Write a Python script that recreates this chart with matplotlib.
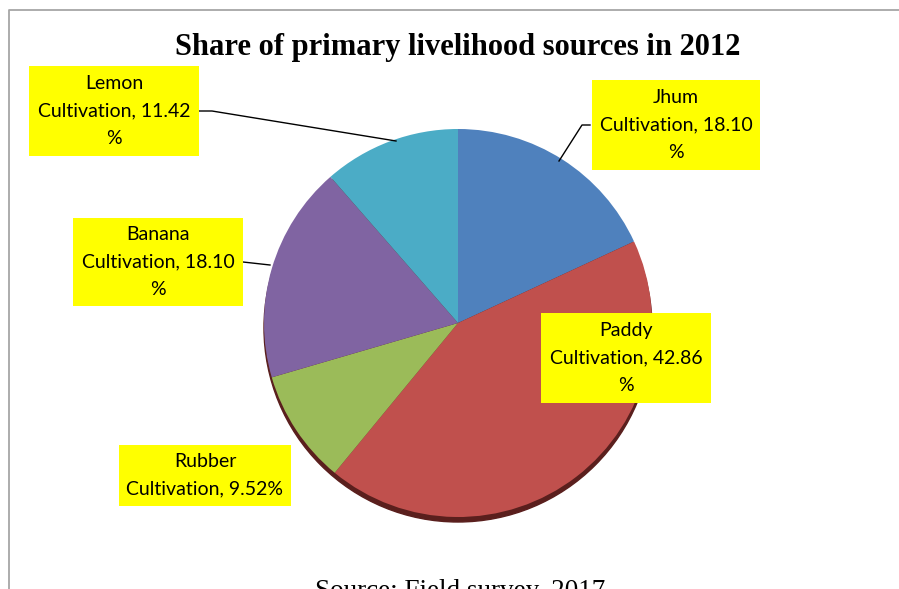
import matplotlib.pyplot as plt
from matplotlib.patches import Rectangle, Circle

# data, clockwise from 12 o'clock
names = ['Jhum', 'Paddy', 'Rubber', 'Banana', 'Lemon']
shares = [18.10, 42.86, 9.52, 18.10, 11.42]
label_texts = ['Jhum\nCultivation, 18.10\n%',
               'Paddy\nCultivation, 42.86\n%',
               'Rubber\nCultivation, 9.52%',
               'Banana\nCultivation, 18.10\n%',
               'Lemon\nCultivation, 11.42\n%']
colors = ['#4F81BD', '#C0504D', '#9BBB59', '#8064A2', '#4BACC6']

W, H = 899, 589
fig = plt.figure(figsize=(W / 100, H / 100), dpi=100)
ax = fig.add_axes([0, 0, 1, 1])

def Y(y):
    return H - y

# frame of the chart area
ax.plot([9, 9, W], [0, Y(10), Y(10)], color='#a6a6a6', lw=1.3)

cx, cy, r = 458, 323, 194

# little bottom shadow for the 3d look
ax.add_patch(Circle((cx, Y(cy) - 5), r, color='#5a1f1d', zorder=1))
ax.pie(shares, colors=colors, startangle=90, counterclock=False,
       center=(cx, Y(cy)), radius=r, frame=True,
       wedgeprops=dict(linewidth=0, zorder=2))
ax.set_xlim(0, W)
ax.set_ylim(0, H)
ax.set_aspect('auto')
ax.axis('off')

# label boxes (left, top, right, bottom in pixels)
boxes = [(592, 80, 760, 170),
         (541, 313, 711, 403),
         (119, 445, 291, 506),
         (73, 218, 243, 306),
         (29, 66, 199, 156)]
for (x0, y0, x1, y1), txt in zip(boxes, label_texts):
    ax.add_patch(Rectangle((x0, Y(y1)), x1 - x0, y1 - y0,
                           facecolor='#FFFF00', edgecolor='none', zorder=4))
    ax.text((x0 + x1) / 2, Y((y0 + y1) / 2), txt, ha='center', va='center',
            family='Lato', fontsize=14, linespacing=1.75, zorder=5)

# leader lines
leaders = [[(590, 125), (582, 125), (559, 161)],
           [(199, 111), (212, 111), (396, 141)],
           [(243, 262), (270, 265)]]
for pts in leaders:
    ax.plot([p[0] for p in pts], [Y(p[1]) for p in pts],
            color='black', lw=1, zorder=3)

ax.text(458, Y(47), 'Share of primary livelihood sources in 2012',
        ha='center', va='center', family='Liberation Serif',
        fontweight='bold', fontsize=22)

ax.text(460, Y(592), 'Source: Field survey, 2017', ha='center',
        va='center', family='Liberation Serif', fontsize=19.5)

fig.savefig('out.png', dpi=100)
